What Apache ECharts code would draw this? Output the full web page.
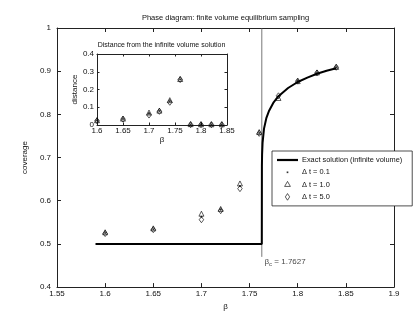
<!DOCTYPE html>
<html>
<head>
<meta charset="utf-8">
<script src="https://cdn.jsdelivr.net/npm/echarts@6/dist/echarts.min.js"></script>
<style>html,body{margin:0;padding:0;background:#fff}#c{width:415px;height:316px}</style>
</head>
<body>
<div id="c"></div>
<script>
// ---- data ----
const betas = [1.6, 1.65, 1.7, 1.72, 1.74, 1.76, 1.78, 1.8, 1.82, 1.84];
const covDt01 = [0.525, 0.534, 0.563, 0.579, 0.634, 0.757, 0.842, 0.877, 0.896, 0.909];
const covDt10 = [0.527, 0.536, 0.570, 0.581, 0.640, 0.759, 0.838, 0.877, 0.897, 0.910];
const covDt50 = [0.524, 0.533, 0.556, 0.577, 0.628, 0.756, 0.843, 0.877, 0.896, 0.909];
const distDt01 = [0.025, 0.034, 0.063, 0.079, 0.134, 0.257, 0.003, 0.003, 0.003, 0.003];
const distDt10 = [0.027, 0.036, 0.070, 0.081, 0.140, 0.259, 0.005, 0.004, 0.004, 0.004];
const distDt50 = [0.024, 0.033, 0.056, 0.077, 0.128, 0.256, 0.002, 0.002, 0.002, 0.002];
const exactBeta = [1.59, 1.7627, 1.7628, 1.763, 1.7635, 1.765, 1.7675, 1.77, 1.775, 1.78, 1.79, 1.8, 1.81, 1.82, 1.83, 1.84];
const exactCov  = [0.5, 0.5, 0.68, 0.707, 0.734, 0.767, 0.792, 0.807, 0.828, 0.842, 0.861, 0.875, 0.885, 0.894, 0.901, 0.907];
const betaC = 1.7627;
const critLineRange = [0.47, 1.0];
const annotAnchor = [1.7655, 0.458];
const seriesNames = ['Exact solution (infinite volume)', 'Δ t = 0.1', 'Δ t = 1.0', 'Δ t = 5.0'];
const mainTitle = 'Phase diagram: finite volume equilibrium sampling';
const insetTitle = 'Distance from the infinite volume solution';

// ---- build ----
const zip = (a, b) => a.map((v, i) => [v, b[i]]);
const FONT = 'Liberation Sans';
const TXT = '#111';
const fmt = v => String(parseFloat(v.toFixed(2)));

function axisBase(extra) {
  return Object.assign({
    type: 'value',
    axisLine: { show: true, onZero: false, lineStyle: { color: '#222', width: 1 } },
    axisTick: { show: true, inside: true, length: 4, lineStyle: { color: '#222', width: 1 } },
    splitLine: { show: false },
    axisLabel: { fontFamily: FONT, fontSize: 8, color: TXT, formatter: fmt },
    nameTextStyle: { fontFamily: FONT, fontSize: 8, color: TXT }
  }, extra);
}

const linePath = 'path://M0,0L21,0L21,2.2L0,2.2Z';
const triPath = 'path://M-1.2,-1.2M1.2,1.2M0,-0.95L0.866,0.55L-0.866,0.55Z';
const diaPath = 'path://M-1.2,-1.2M1.2,1.2M0,-1L0.65,0L0,1L-0.65,0Z';
const dotPath = 'path://M-1.2,-1.2M1.2,1.2M-0.25,-0.25L0.25,-0.25L0.25,0.25L-0.25,0.25Z';
const hollow = { color: 'transparent', borderColor: '#000', borderWidth: 0.8 };

const chart = echarts.init(document.getElementById('c'), null, { renderer: 'canvas' });
chart.setOption({
  animation: false,
  backgroundColor: '#fff',
  title: [
    { text: mainTitle, left: 225.5, top: 14, textAlign: 'center', padding: 0,
      textStyle: { fontFamily: FONT, fontSize: 7.5, fontWeight: 'normal', color: TXT } },
    { text: insetTitle, left: 161.5, top: 42, textAlign: 'center', padding: 0,
      textStyle: { fontFamily: FONT, fontSize: 7, fontWeight: 'normal', color: TXT } }
  ],
  grid: [
    { left: 57, right: 21, top: 28, bottom: 23, show: false },
    { left: 97, width: 130, top: 54, height: 71, show: true, backgroundColor: '#fff', borderWidth: 0, z: 5 }
  ],
  xAxis: [
    axisBase({ gridIndex: 0, min: 1.55, max: 1.9, interval: 0.05, position: 'bottom',
      name: 'β', nameLocation: 'middle', nameGap: 11, axisLabel: { fontFamily: FONT, fontSize: 8, color: TXT, formatter: fmt, margin: 3 } }),
    axisBase({ gridIndex: 0, min: 1.55, max: 1.9, interval: 0.05, position: 'top', axisLabel: { show: false } }),
    axisBase({ gridIndex: 1, min: 1.6, max: 1.85, interval: 0.05, position: 'bottom', z: 6,
      name: 'β', nameLocation: 'middle', nameGap: 11, axisTick: { show: true, inside: true, length: 2.5, lineStyle: { color: '#222' } },
      axisLabel: { fontFamily: FONT, fontSize: 8, color: TXT, formatter: fmt, margin: 2 } }),
    axisBase({ gridIndex: 1, min: 1.6, max: 1.85, interval: 0.05, position: 'top', z: 6,
      axisTick: { show: true, inside: true, length: 2.5, lineStyle: { color: '#222' } }, axisLabel: { show: false } })
  ],
  yAxis: [
    axisBase({ gridIndex: 0, min: 0.4, max: 1.0, interval: 0.1, position: 'left',
      name: 'coverage', nameLocation: 'middle', nameGap: 16, nameRotate: 90,
      axisLabel: { fontFamily: FONT, fontSize: 8, color: TXT, formatter: fmt, margin: 6 } }),
    axisBase({ gridIndex: 0, min: 0.4, max: 1.0, interval: 0.1, position: 'right', axisLabel: { show: false } }),
    axisBase({ gridIndex: 1, min: 0, max: 0.4, interval: 0.1, position: 'left', z: 6,
      name: 'distance', nameLocation: 'middle', nameGap: 16, nameRotate: 90,
      axisTick: { show: true, inside: true, length: 2.5, lineStyle: { color: '#222' } },
      axisLabel: { fontFamily: FONT, fontSize: 8, color: TXT, formatter: fmt, margin: 3 } }),
    axisBase({ gridIndex: 1, min: 0, max: 0.4, interval: 0.1, position: 'right', z: 6,
      axisTick: { show: true, inside: true, length: 2.5, lineStyle: { color: '#222' } }, axisLabel: { show: false } })
  ],
  legend: {
    orient: 'vertical', left: 272, top: 151,
    padding: [4, 10, 4, 5], itemGap: 2.3, itemWidth: 21, itemHeight: 8,
    backgroundColor: '#fff', borderColor: '#222', borderWidth: 0.8, borderRadius: 0,
    textStyle: { fontFamily: FONT, fontSize: 7.4, color: TXT, lineHeight: 10, padding: [0, 0, 0, -1] },
    symbolKeepAspect: true, z: 10,
    data: [
      { name: seriesNames[0], icon: linePath, itemStyle: { color: '#000', borderWidth: 0 } },
      { name: seriesNames[1], icon: dotPath, itemStyle: { color: '#000', borderWidth: 0 } },
      { name: seriesNames[2], icon: triPath, itemStyle: hollow },
      { name: seriesNames[3], icon: diaPath, itemStyle: hollow }
    ]
  },
  series: [
    { name: seriesNames[0], type: 'line', xAxisIndex: 0, yAxisIndex: 0, data: zip(exactBeta, exactCov),
      symbol: 'none', smooth: false, lineStyle: { color: '#000', width: 2 }, itemStyle: { color: '#000' }, z: 3 },
    { name: 'critical', type: 'line', xAxisIndex: 0, yAxisIndex: 0, data: critLineRange.map(v => [betaC, v]),
      symbol: 'none', lineStyle: { color: '#555', width: 0.8 }, silent: true, z: 2 },
    { name: 'annot', type: 'scatter', xAxisIndex: 0, yAxisIndex: 0, data: [annotAnchor], symbolSize: 0,
      label: { show: true, position: 'right', distance: 0,
        formatter: '{a|β}{s|c}{a| = ' + betaC + '}',
        rich: { a: { fontFamily: FONT, fontSize: 8, color: TXT },
                s: { fontFamily: FONT, fontSize: 6, color: TXT, padding: [5, 0, 0, 0] } } } },
    { name: seriesNames[1], type: 'scatter', xAxisIndex: 0, yAxisIndex: 0, data: zip(betas, covDt01),
      symbol: 'circle', symbolSize: 2, itemStyle: { color: '#000' }, z: 4 },
    { name: seriesNames[2], type: 'scatter', xAxisIndex: 0, yAxisIndex: 0, data: zip(betas, covDt10),
      symbol: 'triangle', symbolSize: [5, 5], itemStyle: hollow, z: 4 },
    { name: seriesNames[3], type: 'scatter', xAxisIndex: 0, yAxisIndex: 0, data: zip(betas, covDt50),
      symbol: 'diamond', symbolSize: [4.5, 6], itemStyle: hollow, z: 4 },
    { name: seriesNames[1], type: 'scatter', xAxisIndex: 2, yAxisIndex: 2, data: zip(betas, distDt01),
      symbol: 'circle', symbolSize: 2, itemStyle: { color: '#000' }, z: 7 },
    { name: seriesNames[2], type: 'scatter', xAxisIndex: 2, yAxisIndex: 2, data: zip(betas, distDt10),
      symbol: 'triangle', symbolSize: [5, 5], itemStyle: hollow, z: 7 },
    { name: seriesNames[3], type: 'scatter', xAxisIndex: 2, yAxisIndex: 2, data: zip(betas, distDt50),
      symbol: 'diamond', symbolSize: [4.5, 6], itemStyle: hollow, z: 7 }
  ]
});
</script>
</body>
</html>
